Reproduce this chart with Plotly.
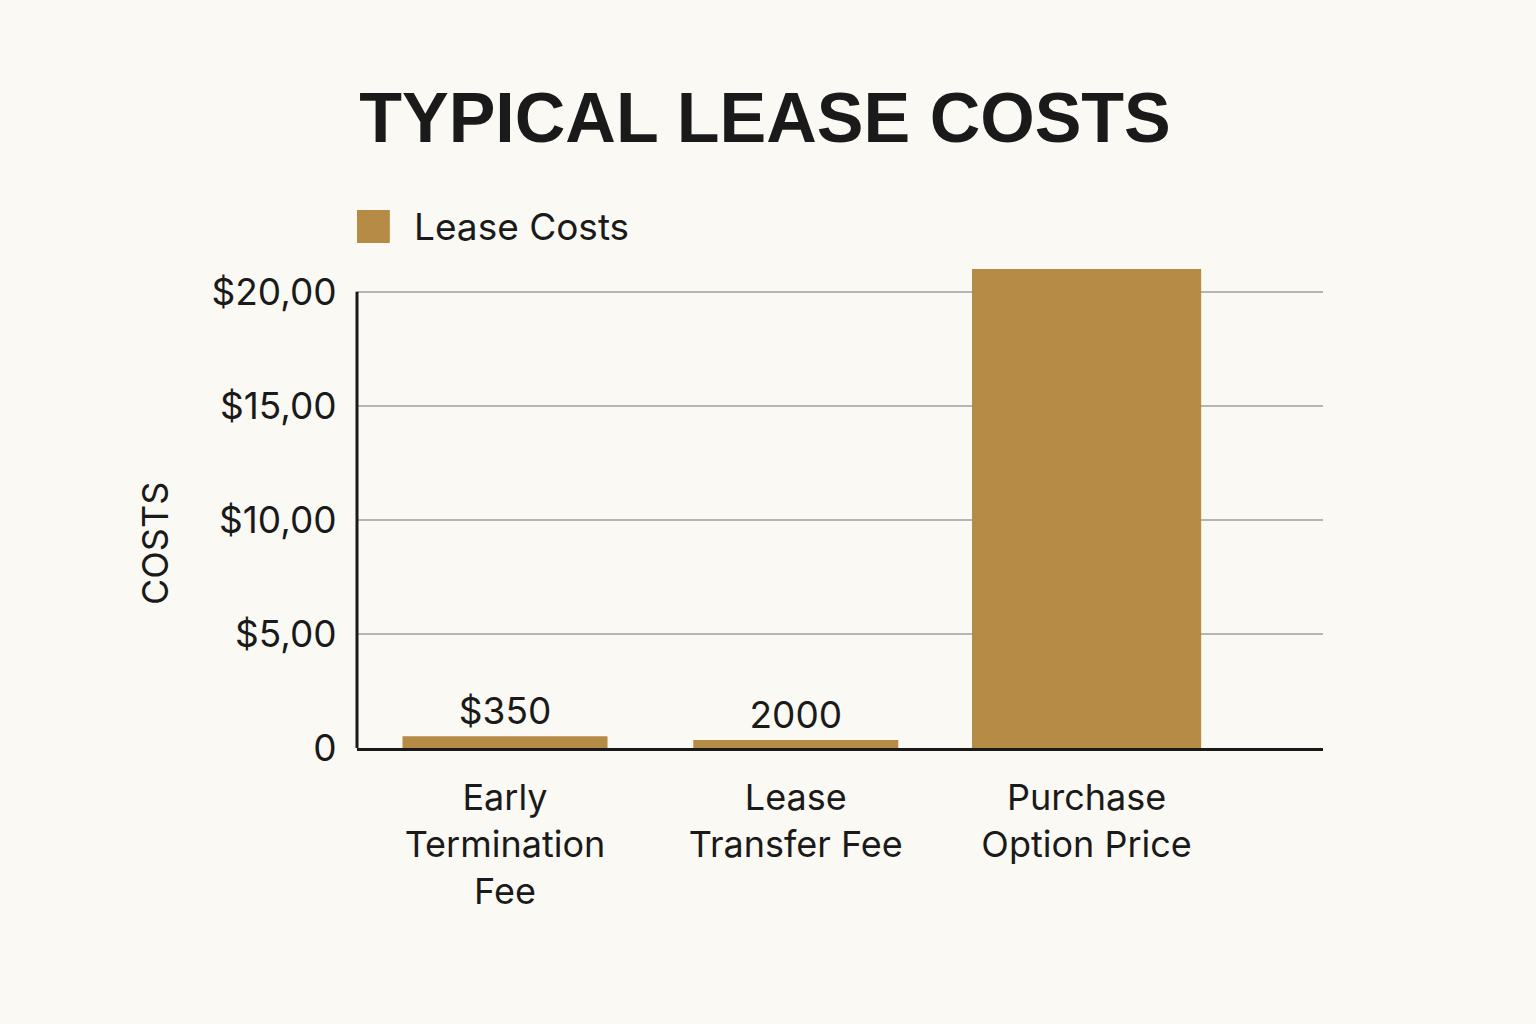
import plotly.graph_objects as go

categories = ["Early<br>Termination<br>Fee", "Lease<br>Transfer Fee", "Purchase<br>Option Price"]
values = [520, 350, 21000]
bar_labels = ["$350", "2000", ""]
tick_vals = [0, 5000, 10000, 15000, 20000]
tick_text = ["0", "$5,00", "$10,00", "$15,00", "$20,00"]

BG = "#fbf9f4"
BAR = "#b58b45"
TXT = "#1a1a1a"
FONT = "Inter"
bar_widths = [0.705, 0.705, 0.788]

fig = go.Figure()
fig.add_trace(go.Bar(
    x=categories, y=values, name="Lease Costs", width=bar_widths,
    marker=dict(color=BAR, line=dict(width=0)),
    text=bar_labels, textposition="outside",
    textfont=dict(size=37, color=TXT, family=FONT),
    cliponaxis=False, showlegend=False,
))

# y-axis line (up to top gridline)
fig.add_shape(type="line", xref="paper", yref="y", x0=0, x1=0, y0=0, y1=20000,
              line=dict(color=TXT, width=3), layer="above")
# legend marker + text
fig.add_shape(type="rect", xref="paper", yref="paper", x0=0, x1=0.034, y0=1.0545, y1=1.123,
              fillcolor=BAR, line=dict(width=0))
fig.add_annotation(xref="paper", yref="paper", x=0.057, y=1.089, text="Lease Costs",
                   showarrow=False, xanchor="left", yanchor="middle",
                   font=dict(size=37, color=TXT, family=FONT))
# y-axis title
fig.add_annotation(xref="paper", yref="paper", x=-(357 - 155) / 966, y=(748 - 544) / 479,
                   text="COSTS", textangle=-90, showarrow=False,
                   xanchor="center", yanchor="middle",
                   font=dict(size=36, color=TXT, family=FONT))

fig.update_layout(
    width=1536, height=1024,
    paper_bgcolor=BG, plot_bgcolor=BG,
    margin=dict(l=357, r=213, t=269, b=276),
    title=dict(text="<b>TYPICAL LEASE COSTS</b>", x=765 / 1536, xanchor="center",
               y=1 - 117 / 1024, yanchor="middle",
               font=dict(size=70, color=TXT, family="Liberation Sans")),
    font=dict(family=FONT, color=TXT),
)
fig.update_xaxes(
    range=[-0.509, 2.813], showline=True, linecolor=TXT, linewidth=3,
    showgrid=False, ticks="outside", ticklen=16, tickcolor=BG,
    tickfont=dict(size=36, color=TXT, family=FONT),
)
fig.update_yaxes(
    range=[0, 21000], tickvals=tick_vals, ticktext=tick_text,
    showgrid=True, gridcolor="#b5b5b5", gridwidth=2, zeroline=False,
    showline=False, ticks="outside", ticklen=12, tickcolor=BG,
    tickfont=dict(size=37, color=TXT, family=FONT),
)

fig.write_html("out.html")
